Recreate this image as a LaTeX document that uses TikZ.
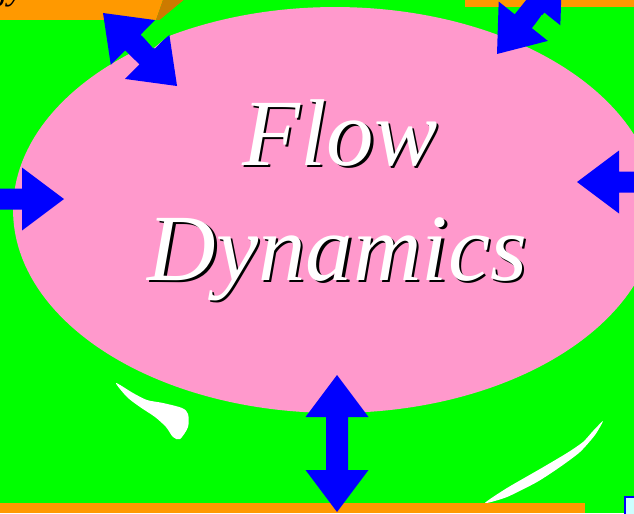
\documentclass[tikz,border=0pt]{standalone}
\usepackage{fontspec}
\newfontfamily\flowfont{Liberation Serif}
\usetikzlibrary{shapes.geometric}

\definecolor{bggreen}{RGB}{0,255,0}
\definecolor{flowpink}{RGB}{255,153,204}
\definecolor{barorange}{RGB}{255,153,0}
\definecolor{bevelorange}{RGB}{204,122,0}
\definecolor{arrowblue}{RGB}{0,0,255}
\definecolor{boxcyan}{RGB}{204,255,255}

\tikzset{
  shadowtext/.style={text=black,inner sep=0pt,anchor=base,
    font=\flowfont\itshape\fontsize{54}{65}\selectfont},
  lighttext/.style={shadowtext,text=white},
  streak/.style={fill=white},
  pics/dblarrow/.style={code={
    \fill[arrowblue] (0,0) -- (42,31.5) -- (42,11) -- ({42+#1},11) -- ({42+#1},31.5)
      -- ({84+#1},0) -- ({42+#1},-31.5) -- ({42+#1},-11) -- (42,-11) -- (42,-31.5) -- cycle;
  }},
  pics/sglarrow/.style={code={
    \fill[arrowblue] (0,0) -- (42,31.5) -- (42,10.5) -- ({42+#1},10.5)
      -- ({42+#1},-10.5) -- (42,-10.5) -- (42,-31.5) -- cycle;
  }}
}

\begin{document}
\begin{tikzpicture}[x=0.02cm,y=-0.02cm]
  \useasboundingbox (0,0) rectangle (634,513);
  \clip (0,0) rectangle (634,513);
  \fill[bggreen] (0,0) rectangle (634,513);

  \fill[barorange] (0,0) -- (163,0) -- (156,20) -- (0,20) -- cycle;
  \fill[bevelorange] (163,0) -- (184,0) -- (160,20) -- (156,20) -- cycle;
  \fill[barorange] (465,0) rectangle (634,7);
  \node[inner sep=0pt,anchor=base east,font=\flowfont\itshape\fontsize{20}{24}\selectfont] (topword) at (24,0) {gy};

  \fill[streak] plot[smooth cycle,tension=0.5] coordinates {(116,383) (133,393) (147,400) (163,403) (182,408) (188,414) (188,427) (180,439) (173,437) (166,427) (155,417) (140,407) (127,397)};
  \fill[streak] plot[smooth cycle,tension=0.4] coordinates {(603,421) (593,431) (583,442) (567,453) (540,469) (507,488) (485,503) (507,497) (537,482) (560,467) (580,452) (595,435)};
  \fill[barorange] (0,503) rectangle (585,513);
  \filldraw[draw=arrowblue,fill=boxcyan,line width=1.2pt] (625,497) rectangle (650,530);

  \node[ellipse,fill=flowpink,inner sep=0pt,minimum width=12.88cm,minimum height=8.12cm] (blob) at (335,210) {};

  \node[shadowtext] (flowshadow) at (342.5,167.5) {Flow};
  \node[lighttext] (flow) at (340,165) {Flow};
  \node[shadowtext] (dynshadow) at (340,282.5) {Dynamics};
  \node[lighttext] (dyn) at (337.5,280) {Dynamics};

  \pic[rotate=-44.6] at (103,13) {dblarrow=20};
  \pic[rotate=51.3] at (497,54) {dblarrow=20};
  \pic[rotate=-90] at (337,375) {dblarrow=53};
  \pic[rotate=180] at (64,199) {sglarrow=30};
  \pic at (577,182) {sglarrow=30};

  \fill[bggreen] (141.7,35) -- (184,0) -- (211,0) -- (153.3,48.3) -- cycle;
  \fill[bggreen] (541.7,15) -- (532.7,28.3) -- (600,75) -- (609,62) -- cycle;
\end{tikzpicture}
\end{document}
